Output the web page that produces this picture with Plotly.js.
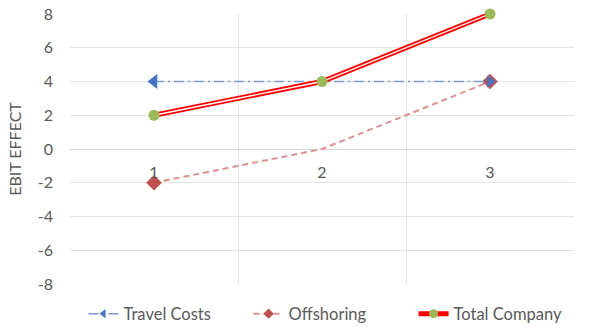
<!DOCTYPE html>
<html>
<head>
<meta charset="utf-8">
<script src="https://cdn.plot.ly/plotly-3.0.1.min.js"></script>
<style>html,body{margin:0;padding:0;background:#fff;}#chart{width:595px;height:327px;}</style>
</head>
<body>
<div id="chart"></div>
<script>
const categories = ["1", "2", "3"];
const xPos = [1, 2, 3];
const travelCosts = [4, 4, 4];
const offshoring = [-2, 0, 4];
const totalCompany = [2, 4, 8];
const yTicks = [-8, -6, -4, -2, 0, 2, 4, 6, 8];
const yTickText = ["-8", "-6", "-4", "-2", "0", "2", "4", "6", "8"];
const seriesNames = ["Travel Costs", "Offshoring", "Total Company"];

const font = "Lato, 'Open Sans', sans-serif";
const traces = [
  {
    x: xPos, y: offshoring, name: seriesNames[1], mode: "lines+markers", cliponaxis: false, legendrank: 2,
    line: {color: "#e0908e", width: 2, dash: "6px,4px"},
    marker: {symbol: "diamond", size: [12, 0, 12], color: "#c0504d", opacity: 1, line: {width: 0}}
  },
  {
    x: xPos, y: travelCosts, name: seriesNames[0], mode: "lines+markers", cliponaxis: false, legendrank: 1,
    line: {color: "#7a9ad4", width: 1.5, dash: "10px,4px,2px,4px"},
    marker: {symbol: ["triangle-left", "circle", "triangle-right"], size: [13, 0, 11], color: "#4472c4", opacity: 1, line: {width: 0}}
  },
  {
    x: xPos, y: totalCompany, name: seriesNames[2], mode: "lines+markers", cliponaxis: false, legendrank: 3,
    line: {color: "#ff0000", width: 5},
    marker: {symbol: "circle", size: 9, color: "#9bbb59", line: {width: 0}}
  },
  {
    x: xPos, y: totalCompany, showlegend: false, hoverinfo: "skip", mode: "lines", cliponaxis: false,
    line: {color: "#ffffff", width: 1.3}
  },
  {
    x: xPos, y: totalCompany, showlegend: false, hoverinfo: "skip", mode: "markers", cliponaxis: false,
    marker: {symbol: "circle", size: 11, color: "#9bbb59", line: {width: 0}}
  }
];

const layout = {
  width: 595, height: 327,
  margin: {l: 70, r: 21, t: 14, b: 43, autoexpand: false},
  paper_bgcolor: "#fff", plot_bgcolor: "#fff",
  font: {family: font, color: "#595959", size: 16},
  showlegend: true,
  legend: {orientation: "h", x: 0.518, xanchor: "center", yref: "container", y: 0.04, yanchor: "middle",
           font: {size: 16.5, color: "#595959"}, traceorder: "normal", entrywidth: 120},
  xaxis: {
    range: [0.5, 3.5], tickvals: xPos, ticktext: categories,
    anchor: "free", position: 0.5, showline: false, showgrid: false, zeroline: false,
    ticks: "", ticklabelstandoff: 12, tickfont: {size: 16, color: "#595959"},
    minor: {tickvals: [0.5, 1.5, 2.5, 3.5], showgrid: true, gridcolor: "#e3e3e3", gridwidth: 1, ticks: ""}
  },
  yaxis: {
    range: [-8, 8], tickvals: yTicks, ticktext: yTickText, showgrid: true, gridcolor: "#e3e3e3", gridwidth: 1,
    zeroline: true, zerolinecolor: "#d9d9d9", zerolinewidth: 1, showline: false,
    ticks: "", ticklabelstandoff: 16, tickfont: {size: 16, color: "#595959"},
    title: {text: "EBIT EFFECT", font: {size: 16, color: "#595959"}, standoff: 12}
  }
};

Plotly.newPlot("chart", traces, layout, {displayModeBar: false, staticPlot: true});
</script>
</body>
</html>
